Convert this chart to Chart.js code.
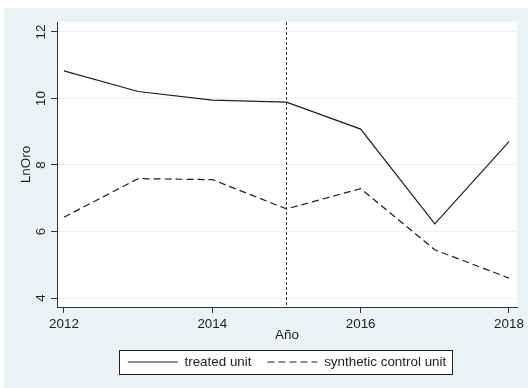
<!DOCTYPE html>
<html>
<head>
<meta charset="utf-8">
<script src="https://cdn.jsdelivr.net/npm/chart.js@4/dist/chart.umd.min.js"></script>
<style>
  html, body { margin: 0; padding: 0; background: #ffffff; }
  #wrap { width: 528px; height: 388px; }
</style>
</head>
<body>
<div id="wrap"><canvas id="chart" width="528" height="388"></canvas></div>
<script>
// Years on the horizontal axis
const years = [2012, 2013, 2014, 2015, 2016, 2017, 2018];
// Log of gold output for the treated unit and its synthetic control
const treatedUnit   = [10.83, 10.21, 9.95, 9.89, 9.08, 6.23, 8.70];
const syntheticUnit = [6.43, 7.59, 7.56, 6.68, 7.29, 5.45, 4.60];
// Axis ticks
const xTicks = [2012, 2014, 2016, 2018];
const yTicks = [4, 6, 8, 10, 12];
// Intervention year marked with a vertical line
const interventionYear = 2015;

const FONT = "'Liberation Sans', Arial, sans-serif";
const INK = '#1e1e1e';
const PANEL = '#eaf2f3';

const toPoints = vals => years.map((y, i) => ({ x: y, y: vals[i] }));

const backgrounds = {
  id: 'backgrounds',
  beforeDraw(chart) {
    const { ctx, chartArea: a } = chart;
    ctx.save();
    ctx.fillStyle = PANEL;
    ctx.fillRect(4, 8, chart.width - 4, chart.height - 8);
    ctx.fillStyle = '#ffffff';
    ctx.fillRect(a.left, a.top, a.right - a.left, a.bottom - a.top);
    // framed legend box
    const hb = chart.legend.legendHitBoxes;
    if (hb && hb.length) {
      const first = hb[0], last = hb[hb.length - 1];
      const cy = first.top + first.height / 2;
      const l = Math.round(first.left - 9) + 0.5;
      const r = Math.round(last.left + last.width + 6) + 0.5;
      const t = Math.round(cy - 12) + 0.5;
      const b = Math.round(cy + 12) + 0.5;
      ctx.fillRect(l, t, r - l, b - t);
      ctx.strokeStyle = INK;
      ctx.lineWidth = 1;
      ctx.strokeRect(l, t, r - l, b - t);
    }
    ctx.restore();
  }
};

const eventLine = {
  id: 'eventLine',
  afterDatasetsDraw(chart) {
    const { ctx, chartArea: a, scales } = chart;
    const x = Math.round(scales.x.getPixelForValue(interventionYear)) + 0.5;
    ctx.save();
    ctx.strokeStyle = '#333333';
    ctx.lineWidth = 1;
    ctx.setLineDash([3, 2]);
    ctx.beginPath();
    ctx.moveTo(x, a.top);
    ctx.lineTo(x, a.bottom);
    ctx.stroke();
    ctx.restore();
  }
};

// legend samples carry each dataset's own dash pattern and stroke
const baseLabels = Chart.defaults.plugins.legend.labels.generateLabels;
function lineLabels(chart) {
  return baseLabels(chart).map(item => {
    const ds = chart.data.datasets[item.datasetIndex];
    item.lineDash = ds.borderDash || [];
    item.lineWidth = ds.borderWidth;
    item.strokeStyle = ds.borderColor;
    return item;
  });
}

new Chart(document.getElementById('chart'), {
  type: 'line',
  data: {
    datasets: [
      {
        label: 'treated unit',
        data: toPoints(treatedUnit),
        borderColor: INK,
        borderWidth: 1.2,
        pointRadius: 0,
        tension: 0,
        fill: false
      },
      {
        label: 'synthetic control unit',
        data: toPoints(syntheticUnit),
        borderColor: INK,
        borderWidth: 1.2,
        borderDash: [7, 4],
        pointRadius: 0,
        tension: 0,
        fill: false
      }
    ]
  },
  options: {
    responsive: false,
    animation: false,
    devicePixelRatio: 1,
    layout: { padding: { left: 4, top: 22, right: 11, bottom: 9.3 } },
    plugins: {
      tooltip: { enabled: false },
      legend: {
        position: 'bottom',
        fullSize: false,
        labels: {
          usePointStyle: true,
          pointStyle: 'line',
          pointStyleWidth: 50,
          padding: 16,
          color: INK,
          font: { family: FONT, size: 13.4 },
          generateLabels: lineLabels
        }
      }
    },
    scales: {
      x: {
        type: 'linear',
        min: 2011.906,
        max: 2018.108,
        afterBuildTicks: s => { s.ticks = xTicks.map(v => ({ value: v })); },
        afterFit: s => { s.height = 32.3; },
        ticks: {
          padding: 3,
          maxRotation: 0,
          color: INK,
          font: { family: FONT, size: 13.4 },
          callback: v => String(v)
        },
        grid: {
          drawOnChartArea: false,
          color: 'rgba(0,0,0,0)',
          tickColor: '#333333',
          tickLength: 6
        },
        border: { display: true, color: '#333333', width: 1 },
        title: {
          display: true,
          text: 'Año',
          color: INK,
          font: { family: FONT, size: 13.4 },
          padding: { top: 0, bottom: -3.7 }
        }
      },
      y: {
        min: 3.73,
        max: 12.3,
        afterBuildTicks: s => { s.ticks = yTicks.map(v => ({ value: v })); },
        afterFit: s => { s.width = 53; },
        ticks: {
          minRotation: 90,
          maxRotation: 90,
          crossAlign: 'center',
          padding: 2,
          color: INK,
          font: { family: FONT, size: 13.4 },
          callback: v => String(v)
        },
        grid: {
          color: PANEL,
          lineWidth: 1,
          tickColor: '#333333',
          tickLength: 6
        },
        border: { display: true, color: '#333333', width: 1 },
        title: {
          display: true,
          text: 'LnOro',
          color: INK,
          font: { family: FONT, size: 13.4 },
          padding: { top: 14, bottom: 0 }
        }
      }
    }
  },
  plugins: [backgrounds, eventLine]
});
</script>
</body>
</html>
